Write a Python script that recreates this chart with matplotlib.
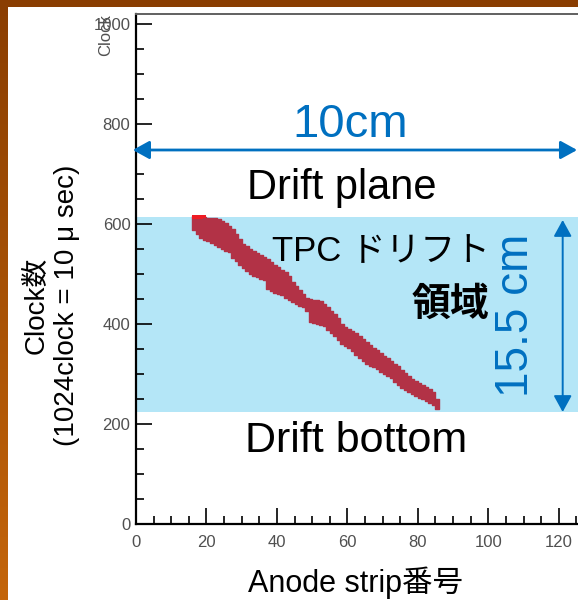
import numpy as np
import matplotlib
matplotlib.use('Agg')
import matplotlib.pyplot as plt
from matplotlib.colors import LinearSegmentedColormap
from matplotlib.patches import Rectangle

# Anode strip bins hit by the track and the clock range filled in each strip
STRIPS = list(range(16, 86))
CLOCK_HI = [616, 616, 614, 614, 612, 612, 612, 610, 606, 602,
            596, 590, 580, 570, 560, 556, 550, 546, 542, 538,
            534, 530, 524, 518, 514, 508, 504, 496, 484, 476,
            468, 460, 452, 450, 448, 448, 446, 440, 434, 426,
            420, 412, 400, 394, 390, 386, 382, 376, 370, 364,
            358, 352, 348, 342, 336, 332, 326, 320, 316, 308,
            302, 296, 290, 286, 282, 278, 274, 270, 264, 250]
CLOCK_LO = [588, 580, 572, 568, 566, 562, 558, 554, 550, 546,
            544, 532, 526, 518, 512, 506, 500, 496, 494, 490,
            488, 470, 466, 462, 460, 458, 452, 448, 444, 440,
            436, 434, 426, 404, 402, 400, 398, 396, 388, 382,
            376, 368, 360, 356, 352, 346, 338, 332, 326, 320,
            316, 314, 310, 304, 300, 296, 292, 284, 278, 272,
            268, 264, 260, 256, 252, 250, 246, 242, 238, 230]
# hottest bins at the start of the track
HOT_STRIPS = [16, 17, 18, 19]
HOT_LO = [610, 610, 610, 612]
HOT_HI = [618, 618, 618, 618]

# drift region (clock) and the reference lines
DRIFT_TOP = 614
DRIFT_BOTTOM = 224
WIDTH_ARROW_Y = 748
WIDTH_ARROW_X = (-0.9, 125.2)
HEIGHT_ARROW_X = 121.1
HEIGHT_ARROW_Y = (224, 608)

XTICKS = [0, 20, 40, 60, 80, 100, 120]
YTICKS = [0, 200, 400, 600, 800, 1000]

BLUE = '#0070c0'
BAND = '#b4e6f7'
TRACK = '#b23246'
HOT = '#ee1c24'
JP = ['Liberation Sans', 'Noto Sans CJK JP']

W, H = 578, 600
fig = plt.figure(figsize=(W / 100, H / 100), dpi=100)

# slide background: brown/orange edge with a white panel
bg = fig.add_axes([0, 0, 1, 1])
cmap = LinearSegmentedColormap.from_list('edge', ['#c4650a', '#8a3e02'])
bg.imshow(np.linspace(0, 1, 256).reshape(-1, 1), cmap=cmap, aspect='auto',
          extent=[0, 1, 0, 1], origin='lower')
bg.add_patch(Rectangle((7.5 / W, 0), 1, 1 - 7 / H, color='white', lw=0))
bg.set_xlim(0, 1); bg.set_ylim(0, 1)
bg.axis('off')

ax = fig.add_axes([136 / W, 76 / H, 451 / W, 510 / H])
ax.set_facecolor('none')
ax.set_xlim(0, 128)
ax.set_ylim(0, 1020)

ax.axhspan(DRIFT_BOTTOM, DRIFT_TOP, color=BAND, lw=0, zorder=0.5)

xs = STRIPS + [STRIPS[-1] + 1]
ax.fill_between(xs, CLOCK_LO + [CLOCK_LO[-1]], CLOCK_HI + [CLOCK_HI[-1]],
                step='post', facecolor=TRACK, edgecolor=TRACK, lw=1.0, zorder=1)
hx = HOT_STRIPS + [HOT_STRIPS[-1] + 1]
ax.fill_between(hx, HOT_LO + [HOT_LO[-1]], HOT_HI + [HOT_HI[-1]],
                step='post', color=HOT, lw=0, zorder=1.1)

# axes styling (inward ticks, gray labels)
ax.set_xticks(XTICKS)
ax.set_yticks(YTICKS)
ax.set_xticks(np.arange(0, 129, 5), minor=True)
ax.set_yticks(np.arange(0, 1001, 50), minor=True)
ax.tick_params(which='both', direction='in', colors='black', width=1.2,
               labelcolor='#505050', labelsize=12, top=False, right=False)
ax.tick_params(which='major', length=11.5)
ax.tick_params(which='minor', length=5.5)
ax.tick_params(axis='x', pad=8)
ax.tick_params(axis='y', pad=4)
for lab in ax.get_xticklabels() + ax.get_yticklabels():
    lab.set_family('Liberation Sans')
for s in ('left', 'bottom'):
    ax.spines[s].set_linewidth(1.6)
ax.spines['top'].set_color('#606060')
ax.spines['top'].set_linewidth(1.4)
ax.spines['right'].set_visible(False)

# width / height arrows
ax.annotate('', xy=(WIDTH_ARROW_X[0], WIDTH_ARROW_Y), xytext=(WIDTH_ARROW_X[1], WIDTH_ARROW_Y),
            annotation_clip=False,
            arrowprops=dict(arrowstyle='<|-|>,head_length=1.0,head_width=0.55',
                            mutation_scale=10, color=BLUE, lw=2.0,
                            shrinkA=0, shrinkB=0))
ax.annotate('', xy=(HEIGHT_ARROW_X, HEIGHT_ARROW_Y[0]), xytext=(HEIGHT_ARROW_X, HEIGHT_ARROW_Y[1]),
            annotation_clip=False,
            arrowprops=dict(arrowstyle='<|-|>,head_length=1.0,head_width=0.55',
                            mutation_scale=10, color=BLUE, lw=1.4,
                            shrinkA=0, shrinkB=0))

ax.text(60.7, 798, '10cm', color=BLUE, fontsize=34, family='Liberation Sans',
        ha='center', va='center')
ax.text(107.8, 418, '15.5 cm', color=BLUE, fontsize=33, family='Liberation Sans',
        ha='center', va='center', rotation=90)

ax.text(58.4, 672, 'Drift plane', fontsize=30, family=JP, ha='center', va='center')
ax.text(100.4, 544, 'TPC ドリフト', fontsize=25, family=JP, ha='right', va='center')
ax.text(100.4, 436, '領域', fontsize=28, family=JP, ha='right', va='center',
        fontweight='bold')
ax.text(62.4, 166, 'Drift bottom', fontsize=31, family=JP, ha='center', va='center')

# axis titles
fig.text(52 / W, 1 - 305 / H, 'Clock数\n(1024clock = 10 μ sec)', rotation=90,
         fontsize=20, family=JP, ha='center', va='center', multialignment='center',
         linespacing=1.25)
fig.text(355 / W, 1 - 583 / H, 'Anode strip番号', fontsize=22, family=JP,
         ha='center', va='center')
fig.text(106 / W, 1 - 14 / H, 'Clock', rotation=90, fontsize=12, color='#505050',
         family='Liberation Sans', ha='center', va='top')

fig.savefig('out.png', dpi=100)
